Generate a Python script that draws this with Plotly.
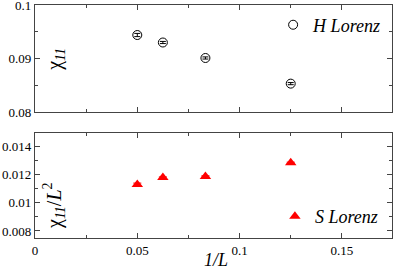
import plotly.graph_objects as go

# Data
inv_L = [0.05, 0.0625, 0.0833, 0.125]
chi_H = [0.0944, 0.0930, 0.0901, 0.0853]
chi_H_err = [0.0003, 0.0002, 0.0002, 0.0002]
chi_S_L2 = [0.01131, 0.01180, 0.01188, 0.01285]
chi_S_err = [0.0001, 0.00005, 0.00005, 0.00005]

x_ticks = [0, 0.05, 0.1, 0.15]
y_top_ticks = [0.08, 0.09, 0.1]
y_bot_ticks = [0.008, 0.01, 0.012, 0.014]

FONT = "Liberation Serif, Times New Roman, DejaVu Serif, serif"
AX = "#444444"

fig = go.Figure()
fig.add_trace(go.Scatter(
    x=inv_L, y=chi_H, mode="markers", name="H Lorenz",
    marker=dict(symbol="circle-open", size=9, color="black", line=dict(width=1)),
    error_y=dict(type="data", array=chi_H_err, color="black", thickness=1, width=3),
    xaxis="x", yaxis="y", legend="legend",
))
fig.add_trace(go.Scatter(
    x=inv_L, y=chi_S_L2, mode="markers", name="S Lorenz",
    marker=dict(symbol="triangle-up", size=10, color="red"),
    error_y=dict(type="data", array=chi_S_err, color="red", thickness=1, width=4),
    xaxis="x2", yaxis="y2", legend="legend2",
))

common = dict(showline=True, linecolor=AX, linewidth=1.2, mirror="allticks",
              ticks="inside", ticklen=5, tickcolor=AX, tickwidth=1,
              showgrid=False, zeroline=False, automargin=False,
              ticklabeloverflow="allow",
              tickfont=dict(family=FONT, size=13, color="black"))

fig.update_layout(
    template="none",
    width=395, height=269,
    margin=dict(l=35, r=3, t=5, b=31),
    font=dict(family=FONT, color="black"),
    paper_bgcolor="white", plot_bgcolor="white",
    xaxis=dict(domain=[0, 1], anchor="y", range=[0, 0.1745], tickvals=x_ticks,
               showticklabels=False,
               minor=dict(dtick=0.025, tick0=0, ticks="inside", ticklen=3, tickcolor=AX),
               **common),
    yaxis=dict(domain=[0.541, 1], anchor="x", range=[0.08, 0.10002], tickvals=y_top_ticks,
               ticktext=["0.08", "0.09", "0.1"],
               minor=dict(dtick=0.005, tick0=0.08, ticks="inside", ticklen=3, tickcolor=AX),
               **common),
    xaxis2=dict(domain=[0, 1], anchor="y2", range=[-0.00001, 0.1745], tickvals=x_ticks,
                ticktext=["0", "0.05", "0.1", "0.15"],
                minor=dict(dtick=0.025, tick0=0, ticks="inside", ticklen=3, tickcolor=AX),
                **common),
    yaxis2=dict(domain=[0, 0.452], anchor="x2", range=[0.0075, 0.015], tickvals=y_bot_ticks,
                ticktext=["0.008", "0.01", "0.012", "0.014"],
                minor=dict(dtick=0.001, tick0=0.008, ticks="inside", ticklen=3, tickcolor=AX),
                **common),
    legend=dict(x=0.667, y=0.914, xanchor="left", yanchor="middle",
                bgcolor="rgba(0,0,0,0)",
                font=dict(family=FONT, size=18, color="black", style="italic")),
    legend2=dict(x=0.672, y=0.092, xanchor="left", yanchor="middle",
                 bgcolor="rgba(0,0,0,0)",
                 font=dict(family=FONT, size=18, color="black", style="italic")),
    showlegend=True,
)

fig.add_annotation(text="χ<sub><i>11</i></sub>", xref="paper", yref="paper",
                   x=0.059, y=0.765, xanchor="center", yanchor="middle",
                   textangle=-90, showarrow=False,
                   font=dict(family=FONT, size=20, color="black"))
fig.add_annotation(text="χ<sub><i>11</i></sub>/<i>L</i><sup>2</sup>", xref="paper", yref="paper",
                   x=0.055, y=0.14, xanchor="center", yanchor="middle",
                   textangle=-90, showarrow=False,
                   font=dict(family=FONT, size=20, color="black"))
fig.add_annotation(text="<i>1/L</i>", xref="paper", yref="paper",
                   x=0.508, y=-0.094, xanchor="center", yanchor="middle", showarrow=False,
                   font=dict(family=FONT, size=18, color="black"))

fig.write_html("out.html", config={"displayModeBar": False},
               post_script="document.body.style.margin='0';document.body.style.padding='0';")
